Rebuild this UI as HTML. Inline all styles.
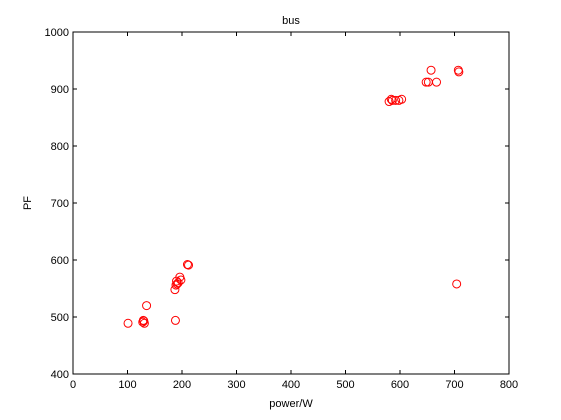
<!DOCTYPE html>
<html><head><meta charset="utf-8"><style>
body{margin:0;background:#fff;}
svg{display:block;font-family:"Liberation Sans",sans-serif;}
</style></head><body>
<svg id="chart" width="561" height="420" viewBox="0 0 561 420">
<rect x="0" y="0" width="561" height="420" fill="#fff"/>
<rect x="73" y="32" width="436" height="342" fill="#fff" stroke="#000" stroke-width="1"/>
<text x="291" y="24" font-size="11" text-anchor="middle">bus</text>
<text x="291" y="407" font-size="11" text-anchor="middle">power/W</text>
<text x="0" y="0" font-size="11" text-anchor="middle" transform="translate(31,203) rotate(-90)">PF</text>
<g id="ticks"></g>
<g id="points"></g>
</svg>
<script>
const xTicks=[0,100,200,300,400,500,600,700,800];
const yTicks=[400,500,600,700,800,900,1000];
const powerW=[101,128,129,130,131,135,188,187,189,190,191,193,196,198,210,212,580,584,586,592,598,603,648,652,657,667,704,707,708];
const pf=[489,491,494,493,489,520,494,548,556,563,558,560,570,565,592,591,878,882,880,880,880,882,912,912,933,912,558,933,930];
const X0=73,X1=509,Y0=374,Y1=32;
function sx(v){return X0+(v-0)/(800-0)*(X1-X0);}
function sy(v){return Y0-(v-400)/(1000-400)*(Y0-Y1);}
const NS="http://www.w3.org/2000/svg";
const tg=document.getElementById('ticks');
xTicks.forEach(t=>{
  const x=sx(t);
  [[Y0,Y0-4],[Y1,Y1+4]].forEach(p=>{
    const l=document.createElementNS(NS,'line');
    l.setAttribute('x1',x);l.setAttribute('x2',x);l.setAttribute('y1',p[0]);l.setAttribute('y2',p[1]);
    l.setAttribute('stroke','#000');
    
    
    tg.appendChild(l);
  });
  const tx=document.createElementNS(NS,'text');
  tx.setAttribute('x',x);tx.setAttribute('y',Y0+14);tx.setAttribute('font-size','11');tx.setAttribute('text-anchor','middle');
  tx.textContent=t;
  
  
  tg.appendChild(tx);
});
yTicks.forEach(t=>{
  const y=sy(t);
  [[X0,X0+4],[X1,X1-4]].forEach(p=>{
    const l=document.createElementNS(NS,'line');
    l.setAttribute('x1',p[0]);l.setAttribute('x2',p[1]);l.setAttribute('y1',y);l.setAttribute('y2',y);
    l.setAttribute('stroke','#000');
    
    
    tg.appendChild(l);
  });
  const tx=document.createElementNS(NS,'text');
  tx.setAttribute('x',X0-4);tx.setAttribute('y',y+4);tx.setAttribute('font-size','11');tx.setAttribute('text-anchor','end');
  tx.textContent=t;
  
  
  tg.appendChild(tx);
});
const pg=document.getElementById('points');
powerW.forEach((w,i)=>{
  const c=document.createElementNS(NS,'circle');
  c.setAttribute('cx',sx(w));c.setAttribute('cy',sy(pf[i]));c.setAttribute('r','4');
  c.setAttribute('fill','none');c.setAttribute('stroke','#f00');c.setAttribute('stroke-width','1');
  
  
  pg.appendChild(c);
});
</script>
</body></html>
